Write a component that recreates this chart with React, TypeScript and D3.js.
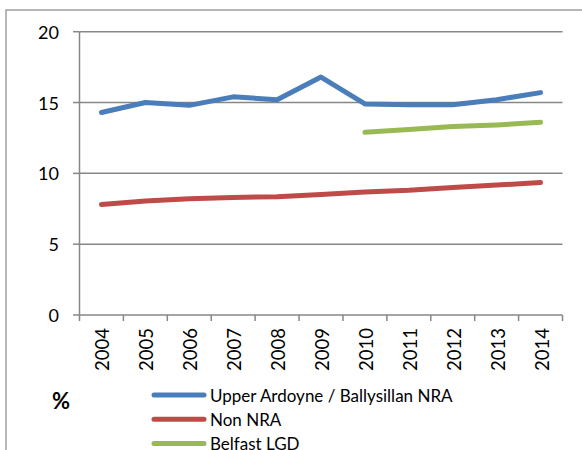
import React from "react";
import * as d3 from "d3";

const years = ["2004", "2005", "2006", "2007", "2008", "2009", "2010", "2011", "2012", "2013", "2014"];
const upperArdoyne = [14.3, 15.0, 14.8, 15.4, 15.2, 16.8, 14.9, 14.85, 14.85, 15.2, 15.7];
const nonNRA = [7.8, 8.05, 8.2, 8.3, 8.35, 8.5, 8.68, 8.8, 9.0, 9.17, 9.35];
const belfastLGD: (number | null)[] = [null, null, null, null, null, null, 12.9, 13.1, 13.3, 13.42, 13.6];
const yTicks = [0, 5, 10, 15, 20];

const seriesNames = ["Upper Ardoyne / Ballysillan NRA", "Non NRA", "Belfast LGD"];
const seriesColors = ["#4A7EBB", "#BE4B48", "#98B954"];
const seriesData = [upperArdoyne, nonNRA, belfastLGD];

const W = 582;
const H = 450;
const FONT = "Lato, 'Open Sans', sans-serif";

export default function App() {
  const x = d3.scaleBand<string>().domain(years).range([79.5, 562.5]).padding(0);
  const y = d3.scaleLinear().domain([0, 20]).range([315, 31.7]);
  const cx = (yr: string) => (x(yr) as number) + x.bandwidth() / 2;

  const line = d3
    .line<number | null>()
    .defined((d) => d != null)
    .x((_, i) => cx(years[i]))
    .y((d) => y(d as number));

  const grid = "#878787";
  const boundaries = years.map((yr) => x(yr) as number).concat([x.range()[1]]);

  return (
    <svg
      width={W}
      height={H}
      style={{ position: "absolute", left: 0, top: 0, display: "block", background: "#fff" }}
      fontFamily={FONT}
    >
      {/* outer chart border */}
      <rect x={6} y={10} width={W + 20} height={H + 20} fill="none" stroke="#888" strokeWidth={1.2} />

      {/* gridlines */}
      {yTicks.filter((t) => t > 0).map((t) => (
        <line key={"g" + t} x1={x.range()[0]} x2={x.range()[1]} y1={y(t)} y2={y(t)} stroke={grid} strokeWidth={1.5} />
      ))}
      {/* y axis */}
      <line x1={x.range()[0]} x2={x.range()[0]} y1={y(20)} y2={y(0)} stroke={grid} strokeWidth={1.5} />
      {yTicks.map((t) => (
        <g key={"yt" + t}>
          <line x1={73} x2={x.range()[0]} y1={y(t)} y2={y(t)} stroke={grid} strokeWidth={1.5} />
          <text x={59} y={y(t)} textAnchor="end" dominantBaseline="central" fontSize={18} fill="#000">
            {t}
          </text>
        </g>
      ))}
      {/* x axis */}
      <line x1={x.range()[0]} x2={x.range()[1]} y1={y(0)} y2={y(0)} stroke={grid} strokeWidth={1.5} />
      {boundaries.map((b, i) => (
        <line key={"xt" + i} x1={b} x2={b} y1={y(0)} y2={y(0) + 6} stroke={grid} strokeWidth={1.5} />
      ))}
      {years.map((yr) => (
        <text
          key={"xl" + yr}
          transform={`translate(${cx(yr) + 1},328) rotate(-90)`}
          textAnchor="end"
          dominantBaseline="central"
          fontSize={18.5}
          fill="#000"
        >
          {yr}
        </text>
      ))}

      {/* series */}
      {seriesData.map((s, i) => (
        <path
          key={"s" + i}
          d={line(s) || ""}
          fill="none"
          stroke={seriesColors[i]}
          strokeWidth={5}
          strokeLinecap="round"
          strokeLinejoin="round"
        />
      ))}

      {/* legend */}
      <text x={52} y={400} dominantBaseline="central" fontSize={22} fontWeight="bold" fill="#000">
        %
      </text>
      {seriesNames.map((n, i) => {
        const ly = 395 + i * 24.3;
        return (
          <g key={"lg" + i}>
            <line x1={154} x2={204} y1={ly} y2={ly} stroke={seriesColors[i]} strokeWidth={5} strokeLinecap="round" />
            <text x={210} y={ly} dominantBaseline="central" fontSize={17} fill="#000">
              {n}
            </text>
          </g>
        );
      })}
    </svg>
  );
}
